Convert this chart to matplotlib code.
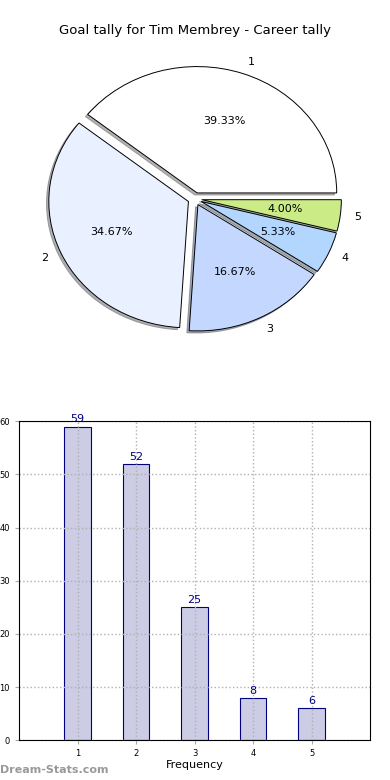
import matplotlib
matplotlib.use('Agg')
import matplotlib.pyplot as plt
from matplotlib.colors import to_rgba

# data
pie_labels = ['1', '2', '3', '4', '5']
goals = [59, 52, 25, 8, 6]
pie_colors = ['#ffffff', '#e9f0ff', '#c3d7ff', '#b3d6ff', '#cbeb87']
bar_x = [1, 2, 3, 4, 5]
title = 'Goal tally for Tim Membrey - Career tally'

fig = plt.figure(figsize=(3.9, 7.8), dpi=100)

# pie (old style, not equal aspect)
ax1 = fig.add_axes([0.052, 0.5425, 0.895, 0.405])
ax1.pie(goals, labels=pie_labels, colors=pie_colors, explode=[0.05] * 5,
        autopct='%1.2f%%', startangle=0,
        shadow={'ox': -0.012, 'oy': -0.012, 'shade': 0.6},
        wedgeprops={'edgecolor': 'black', 'linewidth': 0.7},
        textprops={'fontsize': 8})
ax1.set_aspect('auto')
ax1.set_xlim(-1.25, 1.25)
ax1.set_ylim(-1.25, 1.25)
ax1.axis('off')
fig.text(0.5, 0.961, title, ha='center', va='center', fontsize=9.5)

# bar chart
ax2 = fig.add_axes([0.049, 0.051, 0.9, 0.409])
ax2.bar(bar_x, goals, width=0.45, color=to_rgba('navy', 0.2),
        edgecolor='navy', linewidth=0.8, zorder=1)
for x, v in zip(bar_x, goals):
    ax2.text(x, v + 0.4, str(v), ha='center', va='bottom', color='navy', fontsize=8)
ax2.set_xlim(0, 6)
ax2.set_ylim(0, 60)
ax2.set_xticks(bar_x)
ax2.set_yticks(range(0, 61, 10))
ax2.tick_params(labelsize=6, length=3, color='#aaaaaa')
ax2.grid(True, color='#b0b0b0', linestyle=':', linewidth=1)
ax2.set_axisbelow(False)
for s in ax2.spines.values():
    s.set_zorder(5)
ax2.set_xlabel('Frequency', fontsize=8, labelpad=1)

fig.text(0.0, 0.013, 'Dream-Stats.com', color='#999999', fontsize=8,
         fontweight='bold', ha='left', va='center')

fig.savefig('out.png', dpi=100)
